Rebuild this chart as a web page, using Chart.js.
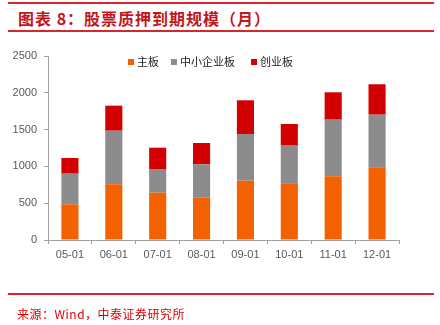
<!DOCTYPE html>
<html><head><meta charset="utf-8">
<script src="https://cdn.jsdelivr.net/npm/chart.js@4"></script>
<style>
html,body{margin:0;padding:0;background:#fff;width:440px;height:325px;overflow:hidden;}
#wrap{position:relative;width:440px;height:325px;}
canvas{position:absolute;left:0;top:0;}
.line{position:absolute;left:8px;width:426px;background:#d7262e;}
#title{position:absolute;left:18px;top:6px;font:bold 16px "Noto Sans CJK SC";letter-spacing:1px;color:#c3161c;white-space:nowrap;}
#src{position:absolute;left:17px;top:305px;font:12px "Noto Sans CJK SC";color:#e00000;white-space:nowrap;letter-spacing:0.5px;}
#legend{position:absolute;top:53px;left:128px;font:11px "Noto Sans CJK SC";color:#222;white-space:nowrap;}
#legend span.it{position:absolute;top:0;}
#legend i{display:inline-block;width:6px;height:6px;margin-right:3px;vertical-align:1px;}
</style></head>
<body><div id="wrap">
<div class="line" style="top:2px;height:2px"></div>
<div id="title">图表 8：股票质押到期规模（月）</div>
<div class="line" style="top:30px;height:2px"></div>
<canvas id="c" width="440" height="325"></canvas>
<div id="legend"></div>
<div class="line" style="top:293px;height:2px"></div>
<div id="src">来源：Wind，中泰证券研究所</div>
</div>
<script>
const categories = ["05-01","06-01","07-01","08-01","09-01","10-01","11-01","12-01"];
const mainBoard = [485, 757, 643, 580, 806, 770, 865, 988];
const smeBoard = [416, 728, 322, 448, 634, 512, 770, 715];
const gemBoard = [213, 340, 289, 290, 458, 294, 372, 413];
const seriesNames = ["主板","中小企业板","创业板"];
const yTicks = [0, 500, 1000, 1500, 2000, 2500];
const colors = ["#f46100","#8c8c8c","#d20000"];

const leg = document.getElementById('legend');
const legX = [0, 43, 123];
seriesNames.forEach((n,i)=>{
  const s=document.createElement('span');s.className='it';s.style.left=legX[i]+'px';
  s.innerHTML='<i style="background:'+colors[i]+'"></i>'+n;leg.appendChild(s);
});

const axisColor = '#a0a0a0';
new Chart(document.getElementById('c'), {
  type:'bar',
  data:{labels:categories,datasets:[
    {label:seriesNames[0],data:mainBoard,backgroundColor:colors[0]},
    {label:seriesNames[1],data:smeBoard,backgroundColor:colors[1]},
    {label:seriesNames[2],data:gemBoard,backgroundColor:colors[2]}
  ]},
  options:{
    responsive:false,animation:false,
    layout:{padding:{top:56,left:0,right:41,bottom:63}},
    plugins:{legend:{display:false},tooltip:{enabled:false}},
    datasets:{bar:{categoryPercentage:1,barPercentage:0.39}},
    scales:{
      x:{stacked:true,
        grid:{drawOnChartArea:false,drawTicks:true,tickLength:4,color:axisColor,offset:true},
        border:{color:axisColor,width:1},
        ticks:{color:'#595959',font:{family:'Liberation Sans',size:11},padding:4,maxRotation:0},
        afterFit(s){s.height=22;}
      },
      y:{stacked:true,min:0,max:2500,
        afterBuildTicks(s){s.ticks=yTicks.map(v=>({value:v}));},
        grid:{drawOnChartArea:false,drawTicks:true,tickLength:4,color:axisColor},
        border:{color:axisColor,width:1},
        ticks:{color:'#595959',font:{family:'Liberation Sans',size:11},padding:7,callback:v=>String(v)},
        afterFit(s){s.width=48;}
      }
    }
  }
});
</script>
</body></html>
